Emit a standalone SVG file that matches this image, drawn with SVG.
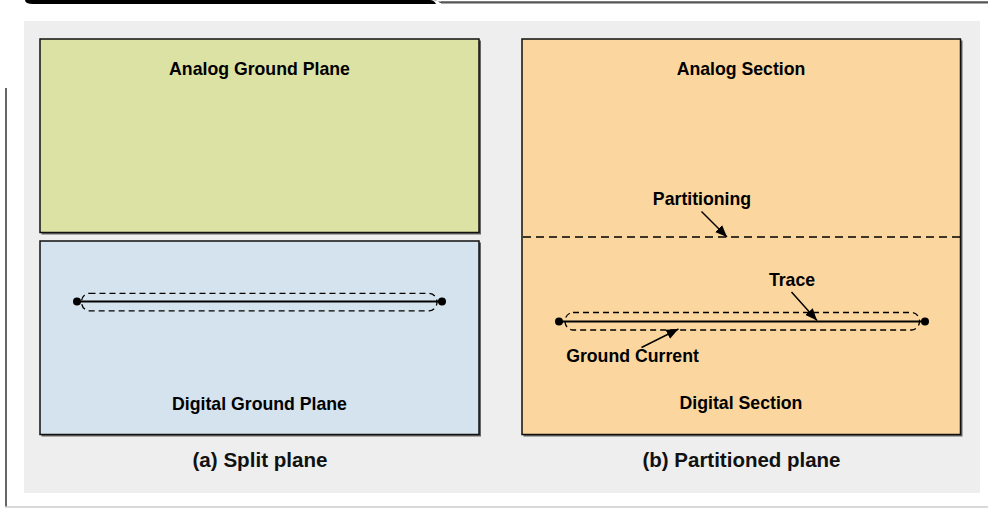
<svg xmlns="http://www.w3.org/2000/svg" width="988" height="508" viewBox="0 0 988 508">
<defs>
<marker id="ah" viewBox="0 0 12 10" refX="12" refY="5" markerWidth="12" markerHeight="10" markerUnits="userSpaceOnUse" orient="auto">
<path d="M0,0 L12,5 L0,10 Z" fill="#000"/>
</marker>
<style>
.lbl{font-family:"Liberation Sans",Arial,sans-serif;font-weight:bold;font-size:17.7px;fill:#000;text-anchor:middle}
.cap{font-family:"Liberation Sans",Arial,sans-serif;font-weight:bold;font-size:21px;fill:#111;text-anchor:middle}
.box{stroke:#111;stroke-width:1.5}
.shadow{fill:#666}
.dash{fill:none;stroke:#000;stroke-width:1.3;stroke-dasharray:6,4}
.trace{stroke:#000;stroke-width:2}
.arrow{stroke:#000;stroke-width:1.5;fill:none;marker-end:url(#ah)}
</style>
</defs>
<rect width="988" height="508" fill="#fff"/>
<!-- frame -->
<g id="frame">
<path d="M25,0 L432,0 Q438,0 440,3 L988,3 L988,1.5 L440,1.5 Q437,1 436,0 Z" fill="#555"/>
<path d="M25,0 L430,0 Q434,0 436,4 L33,4 Q25,4 25,0 Z" fill="#000"/>
<rect x="0" y="1.5" width="988" height="2" fill="none"/>
<line x1="441" y1="2.5" x2="988" y2="2.5" stroke="#555" stroke-width="2"/>
<line x1="6" y1="88" x2="6" y2="507" stroke="#333" stroke-width="1.5"/>
<line x1="5" y1="507" x2="988" y2="507" stroke="#ccc" stroke-width="1.5"/>
<rect x="24" y="21" width="956" height="472" fill="#eeeeee"/>
</g>
<!-- (a) split plane -->
<g id="analog-ground-plane">
<rect class="shadow" x="41.5" y="40.5" width="439.5" height="194"/>
<rect class="box" x="40" y="39" width="439" height="193.5" fill="#dce2a4"/>
<text class="lbl" x="259.5" y="75">Analog Ground Plane</text>
</g>
<g id="digital-ground-plane">
<rect class="shadow" x="41.5" y="242.5" width="439.5" height="194"/>
<rect class="box" x="40" y="241" width="439" height="193.5" fill="#d5e3ee"/>
<text class="lbl" x="259.5" y="410">Digital Ground Plane</text>
</g>
<g id="trace-a">
<rect class="dash" x="81.5" y="293.3" width="355.5" height="17.5" rx="8" ry="8.75"/>
<line class="trace" x1="77" y1="301.5" x2="442" y2="301.5"/>
<circle cx="77" cy="301.5" r="4" fill="#000"/>
<circle cx="442" cy="301.5" r="4" fill="#000"/>
</g>
<text class="cap" x="260" y="467" textLength="135" lengthAdjust="spacingAndGlyphs">(a) Split plane</text>
<!-- (b) partitioned plane -->
<g id="partitioned-plane">
<rect class="shadow" x="523.5" y="40.5" width="439" height="396"/>
<rect class="box" x="522" y="39" width="438.5" height="395.5" fill="#fbd79f"/>
<text class="lbl" x="741" y="75">Analog Section</text>
<text class="lbl" x="741" y="409">Digital Section</text>
</g>
<g id="partition-line">
<line x1="523" y1="237" x2="960" y2="237" stroke="#000" stroke-width="1.3" stroke-dasharray="8,5"/>
</g>
<g id="trace-b">
<rect class="dash" x="565" y="312.5" width="354.5" height="17.5" rx="8" ry="8.75"/>
<line class="trace" x1="559" y1="321.5" x2="925" y2="321.5"/>
<circle cx="559" cy="321.5" r="4" fill="#000"/>
<circle cx="925" cy="321.5" r="4" fill="#000"/>
</g>
<g id="labels-b">
<text class="lbl" x="702" y="205">Partitioning</text>
<text class="lbl" x="792" y="286">Trace</text>
<text class="lbl" x="632.5" y="362">Ground Current</text>
</g>
<g id="connectors">
<line class="arrow" x1="701.5" y1="211.5" x2="727" y2="237"/>
<line class="arrow" x1="791.5" y1="292" x2="817" y2="320.5"/>
<line class="arrow" x1="641.5" y1="347.5" x2="678.5" y2="329"/>
</g>
<text class="cap" x="741.5" y="467" textLength="198" lengthAdjust="spacingAndGlyphs">(b) Partitioned plane</text>
</svg>
